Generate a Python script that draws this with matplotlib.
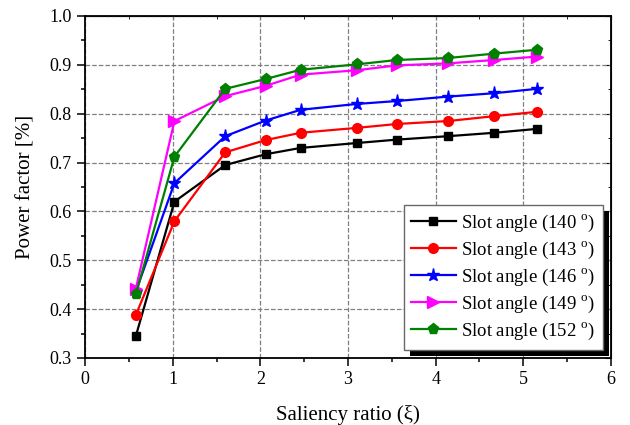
import matplotlib
matplotlib.use("Agg")
import matplotlib.pyplot as plt
from matplotlib.patches import Rectangle
from matplotlib.transforms import IdentityTransform

plt.rcParams["font.family"] = ["Liberation Serif", "DejaVu Serif"]
plt.rcParams["mathtext.fontset"] = "custom"
plt.rcParams["mathtext.rm"] = "Liberation Serif"

# Data
saliency = [0.58, 1.02, 1.60, 2.06, 2.46, 3.10, 3.56, 4.14, 4.67, 5.16]
pf_140 = [0.345, 0.620, 0.695, 0.717, 0.730, 0.740, 0.747, 0.754, 0.761, 0.769]
pf_143 = [0.388, 0.580, 0.721, 0.746, 0.761, 0.771, 0.779, 0.785, 0.795, 0.804]
pf_146 = [0.436, 0.658, 0.754, 0.786, 0.808, 0.820, 0.826, 0.835, 0.842, 0.851]
pf_149 = [0.442, 0.785, 0.836, 0.857, 0.880, 0.889, 0.899, 0.903, 0.910, 0.917]
pf_152 = [0.430, 0.712, 0.851, 0.871, 0.890, 0.901, 0.910, 0.914, 0.923, 0.931]

series = [pf_140, pf_143, pf_146, pf_149, pf_152]
labels = [r"Slot angle (140 $^{\rm o}$)", r"Slot angle (143 $^{\rm o}$)",
          r"Slot angle (146 $^{\rm o}$)", r"Slot angle (149 $^{\rm o}$)",
          r"Slot angle (152 $^{\rm o}$)"]
colors = ["black", "red", "blue", "magenta", "green"]
markers = ["s", "o", "*", ">", "p"]
msizes = [6, 7, 9.5, 8, 8]

xmajor = [0, 1, 2, 3, 4, 5, 6]
xminor = [0.5, 1.5, 2.5, 3.5, 4.5, 5.5]
ymajor = [0.3, 0.4, 0.5, 0.6, 0.7, 0.8, 0.9, 1.0]
yminor = [0.35, 0.45, 0.55, 0.65, 0.75, 0.85, 0.95]

fig = plt.figure(figsize=(6.3, 4.25), dpi=100)
ax = fig.add_axes([85 / 630, 1 - 358 / 425, (611 - 85) / 630, (358 - 16) / 425])

for y, lab, c, m, ms in zip(series, labels, colors, markers, msizes):
    ax.plot(saliency, y, color=c, marker=m, markersize=ms, linewidth=1.6, label=lab)

ax.set_xlim(0, 6)
ax.set_ylim(0.3, 1.0)
ax.set_xticks(xmajor)
ax.set_xticks(xminor, minor=True)
ax.set_yticks(ymajor)
ax.set_yticks(yminor, minor=True)
ax.tick_params(which="both", direction="out", labelsize=13, width=1.1)
ax.tick_params(which="major", length=6)
ax.tick_params(which="minor", length=3)

# small inward ticks mirrored on top and right
sec_x = ax.secondary_xaxis("top")
sec_x.set_xticks(xmajor)
sec_x.set_xticks(xminor, minor=True)
sec_x.tick_params(which="both", direction="in", length=2, labeltop=False)
sec_y = ax.secondary_yaxis("right")
sec_y.set_yticks(ymajor)
sec_y.set_yticks(yminor, minor=True)
sec_y.tick_params(which="both", direction="in", labelright=False)
sec_y.tick_params(which="major", length=4)
sec_y.tick_params(which="minor", length=2)

ax.grid(True, which="major", linestyle="--", color="gray", linewidth=0.9)
for s in ax.spines.values():
    s.set_linewidth(1.3)

ax.set_xlabel("Saliency ratio (ξ)", fontsize=15, labelpad=12)
ax.set_ylabel("Power factor [%]", fontsize=15, labelpad=10)

leg = ax.legend(loc="lower right", fontsize=13.5, numpoints=1, handlelength=2.35,
                fancybox=False, edgecolor="dimgray", framealpha=1,
                borderaxespad=0.45, labelspacing=0.32, handletextpad=0.3,
                borderpad=0.4)
leg.get_frame().set_linewidth(1.0)

# solid black drop shadow under the legend
fig.canvas.draw()
bb = leg.get_window_extent()
shadow = Rectangle((bb.x0 + 6, bb.y0 - 6), bb.width, bb.height, transform=IdentityTransform(),
                   facecolor="black", edgecolor="none", zorder=4.9, clip_on=False)
ax.add_artist(shadow)

fig.savefig("out.png", dpi=100)
